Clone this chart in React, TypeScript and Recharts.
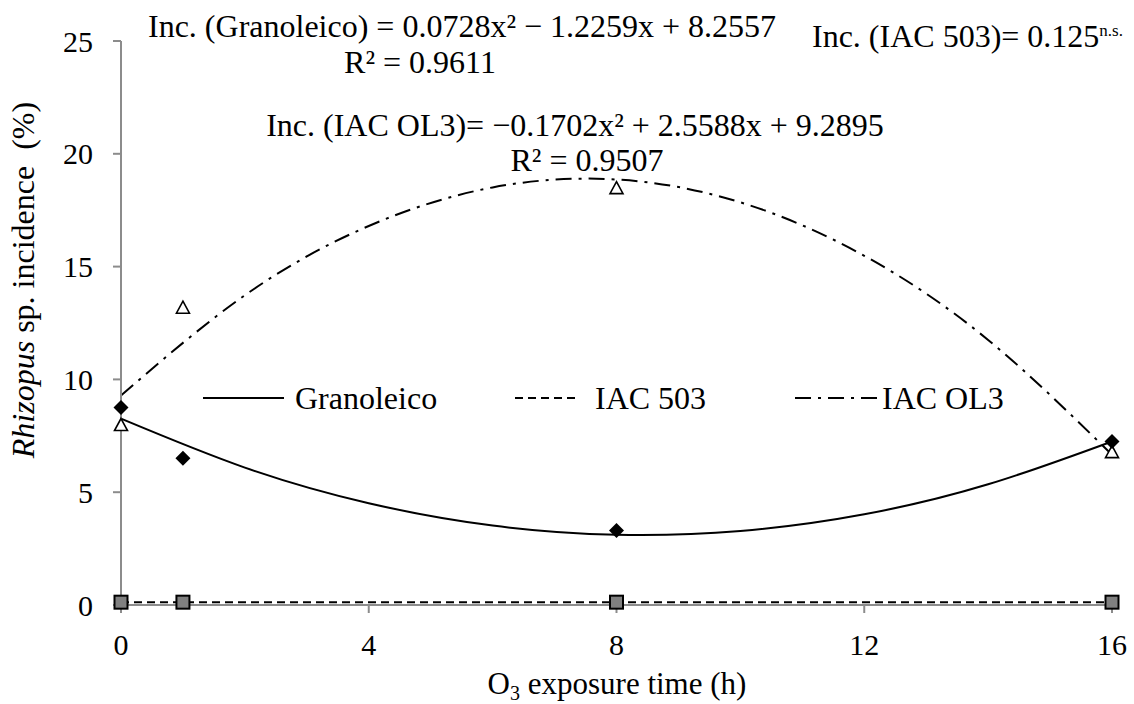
import React from "react";
import { ComposedChart, Line, Scatter, XAxis, YAxis, Legend } from "recharts";

const FONT = '"Liberation Serif", "Times New Roman", serif';

// observed incidence (%) per exposure time
const hours = [0, 1, 8, 16];
const granoleicoObs = [8.75, 6.5, 3.3, 7.25];
const iac503Obs = [0.125, 0.125, 0.125, 0.125];
const iacOl3Obs = [8.0, 13.2, 18.5, 6.8];

// fitted curves, every 2 h
const curveHours = [0, 2, 4, 6, 8, 10, 12, 14, 16];
const granoleicoFit = [8.26, 6.09, 4.51, 3.52, 3.11, 3.28, 4.02, 5.35, 7.25];
const iac503Fit = [0.125, 0.125, 0.125, 0.125, 0.125, 0.125, 0.125, 0.125, 0.125];
const iacOl3Fit = [9.29, 13.73, 16.8, 18.51, 18.86, 17.85, 15.48, 11.75, 6.66];

const xTicks = [0, 4, 8, 12, 16];
const yTicks = [0, 5, 10, 15, 20, 25];

const seriesNames = ["Granoleico", "IAC 503", "IAC OL3"];
const eqGranoleico = "Inc. (Granoleico) = 0.0728x² − 1.2259x + 8.2557";
const r2Granoleico = "R² = 0.9611";
const eqOl3 = "Inc. (IAC OL3)= −0.1702x² + 2.5588x + 9.2895";
const r2Ol3 = "R² = 0.9507";
const eq503 = "Inc. (IAC 503)= 0.125";

const obsRows = (vals: number[]) => hours.map((x, i) => ({ x, y: vals[i] }));
const fitRows = (vals: number[]) => curveHours.map((x, i) => ({ x, y: vals[i] }));

const dashes = ["", "8 5", "16 7 3 7"];
const AXIS = "#8c8c8c";

const Diamond = (p: any) => (
  <polygon points={`${p.cx},${p.cy - 7.5} ${p.cx + 7.5},${p.cy} ${p.cx},${p.cy + 7.5} ${p.cx - 7.5},${p.cy}`} fill="#000" />
);
const Triangle = (p: any) => (
  <polygon points={`${p.cx},${p.cy - 6} ${p.cx + 6.5},${p.cy + 6} ${p.cx - 6.5},${p.cy + 6}`} fill="#fff" stroke="#000" strokeWidth={1.6} />
);
const Square = (p: any) => (
  <rect x={p.cx - 6.5} y={p.cy - 6.5} width={13} height={13} fill="#808080" stroke="#000" strokeWidth={2} />
);

const XTick = ({ x, y, payload }: any) => (
  <text x={x} y={y + 40} textAnchor="middle" fontFamily={FONT} fontSize={30} fill="#000">{payload.value}</text>
);
const YTick = ({ x, y, payload }: any) => (
  <text x={x - 18} y={y} dy="0.35em" textAnchor="end" fontFamily={FONT} fontSize={30} fill="#000">{payload.value}</text>
);

const LegendBox = () => {
  const lefts = [203, 515, 795];
  const lens = [81, 63, 83];
  const gaps = [11, 17, 4];
  return (
    <div style={{ position: "relative", width: 1134, height: 40 }}>
      {seriesNames.map((name, i) => (
        <div key={name} style={{ position: "absolute", left: lefts[i], top: 0, height: 40, display: "flex", alignItems: "center", fontFamily: FONT, fontSize: 32, color: "#000", whiteSpace: "nowrap" }}>
          <svg width={lens[i]} height={6} style={{ marginRight: gaps[i] }}>
            <line x1={0} y1={3} x2={lens[i]} y2={3} stroke="#000" strokeWidth={2} strokeDasharray={dashes[i]} />
          </svg>
          {name}
        </div>
      ))}
    </div>
  );
};

const YTitle = () => {
  const cx = 34;
  const cy = 280;
  return (
    <text x={cx} y={cy} transform={`rotate(-90 ${cx} ${cy})`} textAnchor="middle" fontFamily={FONT} fontSize={32} fill="#000" style={{ whiteSpace: "pre" }}>
      <tspan fontStyle="italic">Rhizopus</tspan> sp. incidence  (%)
    </text>
  );
};

export default function App() {
  return (
    <div style={{ position: "absolute", left: 0, top: 0, width: 1134, height: 704, background: "#fff" }}>
      <ComposedChart width={1134} height={704} margin={{ top: 41, right: 22, bottom: 39, left: 61 }}>
        <XAxis
          type="number"
          dataKey="x"
          domain={[0, 16]}
          ticks={xTicks}
          height={60}
          tickSize={8}
          tickMargin={2}
          stroke={AXIS}
          strokeWidth={2}
          tick={<XTick />}
          label={{
            content: () => (
              <text x={617} y={694} textAnchor="middle" fontFamily={FONT} fontSize={31} fill="#000">
                O<tspan fontSize={20} dy={6}>3</tspan><tspan dy={-6}> exposure time (h)</tspan>
              </text>
            ),
          }}
        />
        <YAxis
          type="number"
          dataKey="y"
          domain={[0, 25]}
          ticks={yTicks}
          width={60}
          tickSize={8}
          tickMargin={2}
          stroke={AXIS}
          strokeWidth={2}
          tick={<YTick />}
          label={{ content: () => <YTitle /> }}
        />
        <Legend layout="horizontal" verticalAlign="middle" align="center" wrapperStyle={{ position: "absolute", top: 378, left: 0, width: 1134 }} content={() => <LegendBox />} />
        <Line data={fitRows(granoleicoFit)} dataKey="y" type="natural" stroke="#000" strokeWidth={2} dot={false} isAnimationActive={false} legendType="none" />
        <Line data={fitRows(iac503Fit)} dataKey="y" type="linear" stroke="#000" strokeWidth={2} strokeDasharray={dashes[1]} dot={false} isAnimationActive={false} legendType="none" />
        <Line data={fitRows(iacOl3Fit)} dataKey="y" type="natural" stroke="#000" strokeWidth={2} strokeDasharray={dashes[2]} dot={false} isAnimationActive={false} legendType="none" />
        <Scatter data={obsRows(iac503Obs)} dataKey="y" shape={<Square />} isAnimationActive={false} legendType="none" />
        <Scatter data={obsRows(iacOl3Obs)} dataKey="y" shape={<Triangle />} isAnimationActive={false} legendType="none" />
        <Scatter data={obsRows(granoleicoObs)} dataKey="y" shape={<Diamond />} isAnimationActive={false} legendType="none" />
      </ComposedChart>
      <svg width={1134} height={704} style={{ position: "absolute", left: 0, top: 0, pointerEvents: "none" }}>
        <g fontFamily={FONT} fontSize={32} fill="#000">
          <text x={148} y={37}>{eqGranoleico}</text>
          <text x={420} y={73} textAnchor="middle">{r2Granoleico}</text>
          <text x={575} y={136} textAnchor="middle">{eqOl3}</text>
          <text x={587} y={171} textAnchor="middle">{r2Ol3}</text>
          <text x={812} y={47}>
            {eq503}
            <tspan fontSize={17} dy={-11}>n.s.</tspan>
          </text>
        </g>
      </svg>
    </div>
  );
}
